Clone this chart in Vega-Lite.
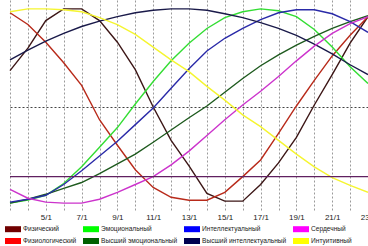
{
  "$schema": "https://vega.github.io/schema/vega-lite/v6.json",
  "width": 358,
  "height": 210,
  "autosize": {"type": "none"},
  "padding": {"left": 10, "top": 0, "right": 0, "bottom": 36},
  "background": "white",
  "config": {"view": {"stroke": null}, "font": "Liberation Sans"},
  "datasets": {
    "curves": [
      {"day": 3, "Физический": 0.37, "Физиологический": 0.96, "Эмоциональный": -0.98, "Высший эмоциональный": -0.98, "Интеллектуальный": -0.97, "Высший интеллектуальный": 0.48, "Сердечный": -0.84, "Интуитивный": 0.97},
      {"day": 4, "Физический": 0.6, "Физиологический": 0.84, "Эмоциональный": -0.95, "Высший эмоциональный": -0.94, "Интеллектуальный": -0.94, "Высший интеллектуальный": 0.58, "Сердечный": -0.93, "Интуитивный": 1.0},
      {"day": 5, "Физический": 0.88, "Физиологический": 0.66, "Эмоциональный": -0.9, "Высший эмоциональный": -0.89, "Интеллектуальный": -0.9, "Высший интеллектуальный": 0.67, "Сердечный": -0.97, "Интуитивный": 1.0},
      {"day": 6, "Физический": 1.0, "Физиологический": 0.45, "Эмоциональный": -0.78, "Высший эмоциональный": -0.83, "Интеллектуальный": -0.79, "Высший интеллектуальный": 0.75, "Сердечный": -0.98, "Интуитивный": 0.99},
      {"day": 7, "Физический": 1.0, "Физиологический": 0.22, "Эмоциональный": -0.61, "Высший эмоциональный": -0.77, "Интеллектуальный": -0.65, "Высший интеллектуальный": 0.82, "Сердечный": -0.98, "Интуитивный": 0.97},
      {"day": 8, "Физический": 0.88, "Физиологический": -0.13, "Эмоциональный": -0.41, "Высший эмоциональный": -0.68, "Интеллектуальный": -0.5, "Высший интеллектуальный": 0.875, "Сердечный": -0.94, "Интуитивный": 0.91},
      {"day": 9, "Физический": 0.66, "Физиологический": -0.39, "Эмоциональный": -0.21, "Высший эмоциональный": -0.58, "Интеллектуальный": -0.35, "Высший интеллектуальный": 0.92, "Сердечный": -0.87, "Интуитивный": 0.84},
      {"day": 10, "Физический": 0.38, "Физиологический": -0.64, "Эмоциональный": 0.03, "Высший эмоциональный": -0.48, "Интеллектуальный": -0.18, "Высший интеллектуальный": 0.96, "Сердечный": -0.79, "Интуитивный": 0.74},
      {"day": 11, "Физический": 0.0, "Физиологический": -0.82, "Эмоциональный": 0.26, "Высший эмоциональный": -0.36, "Интеллектуальный": -0.01, "Высший интеллектуальный": 0.985, "Сердечный": -0.71, "Интуитивный": 0.61},
      {"day": 12, "Физический": -0.34, "Физиологический": -0.92, "Эмоциональный": 0.47, "Высший эмоциональный": -0.235, "Интеллектуальный": 0.19, "Высший интеллектуальный": 1.0, "Сердечный": -0.59, "Интуитивный": 0.48},
      {"day": 13, "Физический": -0.6, "Физиологический": -0.95, "Эмоциональный": 0.65, "Высший эмоциональный": -0.11, "Интеллектуальный": 0.39, "Высший интеллектуальный": 1.0, "Сердечный": -0.45, "Интуитивный": 0.36},
      {"day": 14, "Физический": -0.88, "Физиологический": -0.95, "Эмоциональный": 0.8, "Высший эмоциональный": 0.01, "Интеллектуальный": 0.57, "Высший интеллектуальный": 0.985, "Сердечный": -0.29, "Интуитивный": 0.21},
      {"day": 15, "Физический": -0.96, "Физиологический": -0.87, "Эмоциональный": 0.91, "Высший эмоциональный": 0.15, "Интеллектуальный": 0.7, "Высший интеллектуальный": 0.95, "Сердечный": -0.13, "Интуитивный": 0.07},
      {"day": 16, "Физический": -0.96, "Физиологический": -0.71, "Эмоциональный": 0.97, "Высший эмоциональный": 0.29, "Интеллектуальный": 0.8, "Высший интеллектуальный": 0.91, "Сердечный": 0.02, "Интуитивный": -0.08},
      {"day": 17, "Физический": -0.79, "Физиологический": -0.54, "Эмоциональный": 1.0, "Высший эмоциональный": 0.42, "Интеллектуальный": 0.89, "Высший интеллектуальный": 0.86, "Сердечный": 0.16, "Интуитивный": -0.2},
      {"day": 18, "Физический": -0.57, "Физиологический": -0.27, "Эмоциональный": 0.98, "Высший эмоциональный": 0.53, "Интеллектуальный": 0.96, "Высший интеллектуальный": 0.8, "Сердечный": 0.31, "Интуитивный": -0.34},
      {"day": 19, "Физический": -0.31, "Физиологический": 0.01, "Эмоциональный": 0.92, "Высший эмоциональный": 0.63, "Интеллектуальный": 0.99, "Высший интеллектуальный": 0.73, "Сердечный": 0.47, "Интуитивный": -0.48},
      {"day": 20, "Физический": 0.02, "Физиологический": 0.27, "Эмоциональный": 0.79, "Высший эмоциональный": 0.72, "Интеллектуальный": 0.99, "Высший интеллектуальный": 0.64, "Сердечный": 0.62, "Интуитивный": -0.61},
      {"day": 21, "Физический": 0.33, "Физиологический": 0.52, "Эмоциональный": 0.61, "Высший эмоциональный": 0.8, "Интеллектуальный": 0.95, "Высший интеллектуальный": 0.54, "Сердечный": 0.75, "Интуитивный": -0.72},
      {"day": 22, "Физический": 0.65, "Физиологический": 0.73, "Эмоциональный": 0.41, "Высший эмоциональный": 0.87, "Интеллектуальный": 0.87, "Высший интеллектуальный": 0.43, "Сердечный": 0.85, "Интуитивный": -0.8},
      {"day": 23, "Физический": 0.92, "Физиологический": 0.92, "Эмоциональный": 0.24, "Высший эмоциональный": 0.93, "Интеллектуальный": 0.76, "Высший интеллектуальный": 0.33, "Сердечный": 0.92, "Интуитивный": -0.87}
    ],
    "levels": [{"level": -0.71}]
  },
  "layer": [
    {
      "data": {"name": "curves"},
      "transform": [
        {"fold": ["Физический", "Физиологический", "Эмоциональный", "Высший эмоциональный", "Интеллектуальный", "Высший интеллектуальный", "Сердечный", "Интуитивный"], "as": ["series", "value"]}
      ],
      "mark": {"type": "line", "strokeWidth": 1.4},
      "encoding": {
        "x": {
          "field": "day", "type": "quantitative",
          "scale": {"domain": [3, 23], "nice": false, "zero": false},
          "axis": {
            "values": [3, 4, 5, 6, 7, 8, 9, 10, 11, 12, 13, 14, 15, 16, 17, 18, 19, 20, 21, 22, 23],
            "tickCount": 40,
            "labelExpr": "datum.value >= 5 && datum.value % 2 == 1 ? datum.value + '/1' : ''",
            "grid": true, "gridDash": [2, 2], "gridColor": "#9a9a9a", "gridWidth": 1,
            "ticks": false, "domain": false, "title": null,
            "labelFontSize": 8, "labelColor": "#222", "labelPadding": 3,
            "labelOverlap": false, "labelBound": false, "labelFlush": false
          }
        },
        "y": {
          "field": "value", "type": "quantitative",
          "scale": {"domain": [-1.05, 1.09], "nice": false, "zero": false},
          "axis": {
            "values": [0], "grid": true, "gridDash": [2, 2], "gridColor": "#444", "gridWidth": 1,
            "labels": false, "ticks": false, "domain": false, "title": null
          }
        },
        "stroke": {
          "field": "series", "type": "nominal",
          "scale": {
            "domain": ["Высший интеллектуальный", "Высший эмоциональный", "Интеллектуальный", "Интуитивный", "Сердечный", "Физиологический", "Физический", "Эмоциональный"],
            "range": ["#1a1a4a", "#1e5a1e", "#2a2aa8", "#f5f530", "#cc33cc", "#b82a1a", "#3c1616", "#33dd33"]
          },
          "legend": null
        }
      }
    },
    {
      "data": {"name": "levels"},
      "mark": {"type": "rule", "color": "#602060", "strokeWidth": 1.4},
      "encoding": {"y": {"field": "level", "type": "quantitative"}}
    },
    {
      "data": {"name": "curves"},
      "transform": [
        {"fold": ["Физический", "Физиологический", "Эмоциональный", "Высший эмоциональный", "Интеллектуальный", "Высший интеллектуальный", "Сердечный", "Интуитивный"], "as": ["series", "value"]}
      ],
      "mark": {"type": "point", "filled": true, "size": 0, "opacity": 1},
      "encoding": {
        "x": {"field": "day", "type": "quantitative"},
        "y": {"field": "value", "type": "quantitative"},
        "fill": {
          "field": "series", "type": "nominal",
          "scale": {
            "domain": ["Физический", "Эмоциональный", "Интеллектуальный", "Сердечный", "Физиологический", "Высший эмоциональный", "Высший интеллектуальный", "Интуитивный"],
            "range": ["#700000", "#00ff00", "#0000ff", "#ff00ff", "#ff0000", "#006000", "#000050", "#ffff00"]
          },
          "legend": {
            "orient": "none", "legendX": -5, "legendY": 221,
            "direction": "horizontal", "columns": 4, "title": null,
            "symbolType": "M-1,-0.375H1V0.375H-1Z", "symbolSize": 256,
            "symbolStrokeWidth": 0, "symbolOpacity": 1,
            "labelFontSize": 6.6, "labelColor": "#222", "labelOffset": 2,
            "rowPadding": 0, "columnPadding": 6, "padding": 0, "labelLimit": 200
          }
        }
      }
    }
  ]
}
